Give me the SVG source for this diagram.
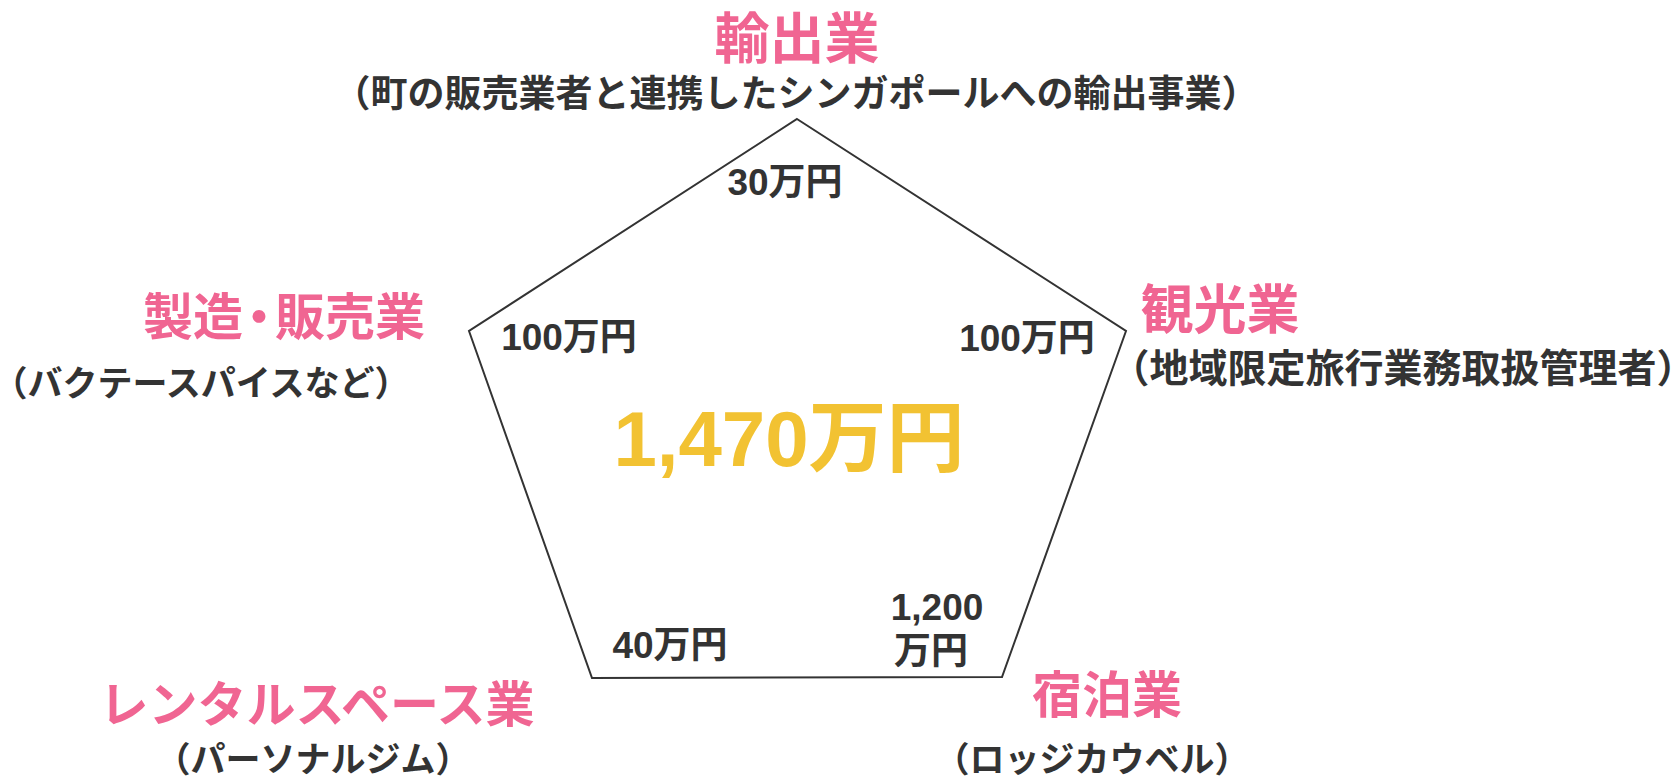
<svg xmlns="http://www.w3.org/2000/svg" width="1671" height="777" viewBox="0 0 1671 777">
<style>
.title{font-family:"Noto Sans CJK JP","Noto Sans CJK SC",sans-serif;font-weight:700;fill:#F06592;text-anchor:middle}
.sub{font-family:"Noto Sans CJK JP","Noto Sans CJK SC",sans-serif;font-weight:700;fill:#333333;text-anchor:middle}
.val{font-family:"Liberation Sans","Noto Sans CJK JP",sans-serif;font-weight:700;fill:#333333;font-size:37px;text-anchor:middle}
.total{font-family:"Liberation Sans","Noto Sans CJK JP",sans-serif;font-weight:700;fill:#F2C232;font-size:78px;text-anchor:middle}
.edge{fill:none;stroke:#333333;stroke-width:2;stroke-linejoin:miter}
</style>
<rect width="1671" height="777" fill="#FFFFFF"/>
<g id="connectors">
<polygon class="edge" points="797,119 1126,331 1002,677 592,678 469,331"/>
</g>
<g id="node-export">
<text class="title" x="797" y="58" font-size="55">輸出業</text>
<text class="sub" x="796" y="107" font-size="37">（町の販売業者と連携したシンガポールへの輸出事業）</text>
<text class="val" x="785" y="195">30万円</text>
</g>
<g id="node-tourism">
<text class="title" x="1220" y="329" font-size="53">観光業</text>
<text class="sub" x="1403" y="382" font-size="39">（地域限定旅行業務取扱管理者）</text>
<text class="val" x="1027" y="351">100万円</text>
</g>
<g id="node-lodging">
<text class="title" x="1107" y="713" font-size="50">宿泊業</text>
<text class="sub" x="1092" y="772" font-size="35">（ロッジカウベル）</text>
<text class="val" x="937" y="620">1,200</text>
<text class="val" x="931" y="664">万円</text>
</g>
<g id="node-rental">
<text class="title" x="317" y="722" font-size="49">レンタルスペース業</text>
<text class="sub" x="313" y="772" font-size="35">（パーソナルジム）</text>
<text class="val" x="670" y="658">40万円</text>
</g>
<g id="node-manufacturing">
<text class="title" x="284" y="335" font-size="50">製造<tspan dx="-9">・</tspan><tspan dx="-9">販売業</tspan></text>
<text class="sub" x="201" y="396" font-size="35">（バクテースパイスなど）</text>
<text class="val" x="569" y="350">100万円</text>
</g>
<g id="node-total">
<text class="total" x="789" y="466">1,470万円</text>
</g>
</svg>
